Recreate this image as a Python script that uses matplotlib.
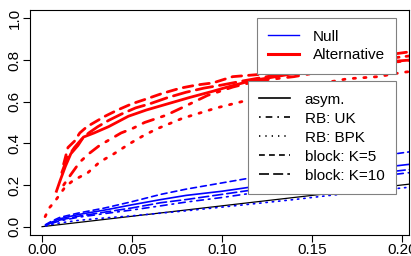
import matplotlib
matplotlib.use("Agg")
import matplotlib.pyplot as plt
from matplotlib.lines import Line2D

plt.rcParams['font.family'] = ['Liberation Sans', 'DejaVu Sans']

# ---- data ----
# null hypothesis (blue)
null_x = [0.002, 0.005, 0.01, 0.02, 0.035, 0.05, 0.066, 0.08, 0.1, 0.12, 0.14, 0.16, 0.18, 0.205]
null_asym = [0.008, 0.02, 0.038, 0.058, 0.08, 0.105, 0.13, 0.15, 0.17, 0.195, 0.225, 0.25, 0.275, 0.30]
null_uk = [0.006, 0.015, 0.028, 0.045, 0.063, 0.08, 0.1, 0.118, 0.14, 0.165, 0.19, 0.21, 0.235, 0.26]
null_bpk = [0.004, 0.01, 0.018, 0.03, 0.042, 0.052, 0.065, 0.076, 0.094, 0.112, 0.13, 0.15, 0.168, 0.19]
null_k5 = [0.01, 0.025, 0.045, 0.065, 0.09, 0.12, 0.155, 0.18, 0.21, 0.24, 0.275, 0.305, 0.33, 0.36]
null_k10 = [0.007, 0.017, 0.032, 0.05, 0.07, 0.09, 0.115, 0.13, 0.155, 0.18, 0.205, 0.23, 0.25, 0.275]

# alternative (red)
alt_asym_x = [0.008, 0.010, 0.013, 0.016, 0.020, 0.023, 0.029, 0.037, 0.048, 0.058, 0.070, 0.082,
              0.095, 0.103, 0.116, 0.13, 0.15, 0.17, 0.19, 0.205]
alt_asym = [0.17, 0.22, 0.29, 0.35, 0.39, 0.43, 0.45, 0.48, 0.53, 0.56, 0.59, 0.62,
            0.65, 0.67, 0.70, 0.72, 0.75, 0.77, 0.79, 0.80]
alt_uk_x = [0.012, 0.016, 0.021, 0.026, 0.032, 0.038, 0.044, 0.05, 0.057, 0.069, 0.08, 0.092,
            0.106, 0.12, 0.14, 0.16, 0.18, 0.205]
alt_uk = [0.20, 0.25, 0.31, 0.35, 0.39, 0.42, 0.45, 0.47, 0.50, 0.535, 0.58, 0.63,
          0.67, 0.70, 0.72, 0.75, 0.77, 0.80]
alt_bpk_x = [0.0017, 0.004, 0.007, 0.0128, 0.017, 0.0256, 0.032, 0.04, 0.049, 0.057, 0.064, 0.078,
             0.097, 0.111, 0.13, 0.15, 0.17, 0.187, 0.2, 0.205]
alt_bpk = [0.048, 0.09, 0.12, 0.19, 0.22, 0.26, 0.31, 0.35, 0.40, 0.44, 0.47, 0.52,
           0.57, 0.60, 0.64, 0.68, 0.71, 0.72, 0.74, 0.745]
alt_k5_x = [0.012, 0.0144, 0.018, 0.021, 0.025, 0.029, 0.035, 0.042, 0.05, 0.057, 0.067, 0.077,
            0.086, 0.095, 0.106, 0.12, 0.14, 0.16, 0.18, 0.205]
alt_k5 = [0.30, 0.38, 0.41, 0.45, 0.48, 0.50, 0.53, 0.56, 0.59, 0.61, 0.64, 0.665,
          0.68, 0.69, 0.72, 0.73, 0.76, 0.79, 0.81, 0.84]
alt_k10_x = [0.011, 0.014, 0.018, 0.022, 0.026, 0.031, 0.037, 0.044, 0.052, 0.06, 0.07, 0.08,
             0.09, 0.1, 0.112, 0.125, 0.145, 0.165, 0.185, 0.205]
alt_k10 = [0.26, 0.33, 0.38, 0.42, 0.45, 0.48, 0.51, 0.54, 0.57, 0.59, 0.62, 0.645,
           0.665, 0.68, 0.70, 0.72, 0.75, 0.78, 0.80, 0.82]

xticks = [0.00, 0.05, 0.10, 0.15, 0.20]
yticks = [0.0, 0.2, 0.4, 0.6, 0.8, 1.0]

# R style line types (in linewidth units)
LTY = {
    'asym': '-',
    'uk': (0, (1, 3, 4, 3)),
    'bpk': (0, (0.8, 3)),
    'k5': (0, (3.5, 2.5)),
    'k10': (0, (6, 2.5)),
}

fig = plt.figure(figsize=(4.11, 2.56), dpi=100)
ax = fig.add_axes([0.073, 0.082, 0.922, 0.879])

# reference diagonal
ax.plot([0, 0.205], [0, 0.205], color='black', lw=0.9)

blue_lw = 1.2
for y, k in [(null_asym, 'asym'), (null_uk, 'uk'), (null_bpk, 'bpk'), (null_k5, 'k5'), (null_k10, 'k10')]:
    ax.plot(null_x, y, color='blue', lw=blue_lw, ls=LTY[k], dash_capstyle='round')

red_lw = 2.0
for x, y, k in [(alt_asym_x, alt_asym, 'asym'), (alt_uk_x, alt_uk, 'uk'), (alt_bpk_x, alt_bpk, 'bpk'),
                (alt_k5_x, alt_k5, 'k5'), (alt_k10_x, alt_k10, 'k10')]:
    ax.plot(x, y, color='red', lw=red_lw, ls=LTY[k], dash_capstyle='round')

ax.set_xlim(-0.0067, 0.204)
ax.set_ylim(-0.04, 1.04)
ax.set_xticks(xticks)
ax.set_xticklabels(['%.2f' % v for v in xticks])
ax.set_yticks(yticks)
ax.set_yticklabels(['%.1f' % v for v in yticks], rotation=90, va='center')
ax.tick_params(labelsize=11, length=5, width=0.8, direction='out', pad=1)
for s in ax.spines.values():
    s.set_linewidth(0.8)

# legend 1: hypothesis colour
h1 = [Line2D([], [], color='blue', lw=1.0), Line2D([], [], color='red', lw=2.2)]
leg1 = ax.legend(h1, ['Null', 'Alternative'], loc='upper right', bbox_to_anchor=(0.966, 0.964),
                 borderaxespad=0, fontsize=11, fancybox=False, framealpha=1, edgecolor='#808080',
                 handlelength=2.0, handletextpad=0.9, labelspacing=0.3, borderpad=0.75)
leg1.get_frame().set_linewidth(0.8)
ax.add_artist(leg1)

# legend 2: method line type
names = ['asym.', 'RB: UK', 'RB: BPK', 'block: K=5', 'block: K=10']
h2 = [Line2D([], [], color='black', lw=1.2, ls=LTY[k]) for k in ['asym', 'uk', 'bpk', 'k5', 'k10']]
leg2 = ax.legend(h2, names, loc='upper right', bbox_to_anchor=(0.966, 0.684),
                 borderaxespad=0, fontsize=11, fancybox=False, framealpha=1, edgecolor='#808080',
                 handlelength=2.0, handletextpad=1.0, labelspacing=0.33, borderpad=0.75)
leg2.get_frame().set_linewidth(0.8)

fig.savefig('out.png', dpi=100)
